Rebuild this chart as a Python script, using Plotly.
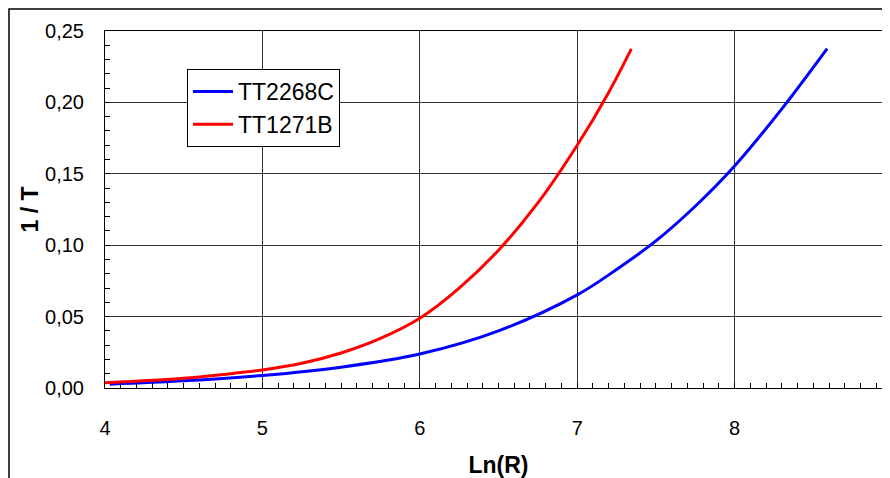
import plotly.graph_objects as go

# TT2268C (blue)
blue_x = [4.03, 4.5, 5.0, 5.5, 6.0, 6.5, 7.0, 7.25, 7.5, 7.75, 8.0, 8.3, 8.588]
blue_y = [0.0027, 0.0050, 0.0088, 0.0146, 0.0238, 0.0400, 0.0652, 0.0830, 0.1030, 0.1273,
          0.1555, 0.1955, 0.2377]

# TT1271B (red)
red_x = [4.0, 4.5, 4.75, 5.0, 5.25, 5.5, 5.75, 6.0, 6.25, 6.5, 6.75, 7.0, 7.2, 7.344]
red_y = [0.0037, 0.0069, 0.0095, 0.0126, 0.0173, 0.0245, 0.0347, 0.0488, 0.0699, 0.0965,
         0.1296, 0.1700, 0.2070, 0.2375]

x_ticks = [4, 5, 6, 7, 8, 9]
y_ticks = [0.00, 0.05, 0.10, 0.15, 0.20, 0.25]

fig = go.Figure()
fig.add_trace(go.Scatter(x=blue_x, y=blue_y, mode="lines", name="TT2268C", legendgroup="a",
                         line=dict(color="#0000FF", width=3, shape="spline", smoothing=1.0)))
fig.add_trace(go.Scatter(x=red_x, y=red_y, mode="lines", name="TT1271B", legendgroup="b",
                         line=dict(color="#FF0000", width=3, shape="spline", smoothing=1.0)))

# page body adds an 8 px offset, so figure coords = screen coords - 8
W, H = 884, 470
ml, mr, mt, mb = 97, 0, 23, 90
pw, ph = W - ml - mr, H - mt - mb

fig.update_layout(
    width=W, height=H,
    margin=dict(l=ml, r=mr, t=mt, b=mb),
    paper_bgcolor="white", plot_bgcolor="white",
    separators=",.",
    font=dict(family="Liberation Sans, Arial, sans-serif", color="black", size=20),
    legend=dict(x=(179 - ml) / pw, y=1 - (61 - mt) / ph, xanchor="left", yanchor="top",
                bordercolor="black", borderwidth=1, bgcolor="white",
                font=dict(size=23), tracegroupgap=0, traceorder="grouped", itemwidth=40),
    xaxis=dict(range=[4, 9], tickvals=x_ticks, showgrid=True, gridcolor="#333", gridwidth=1,
               showline=True, linecolor="black", linewidth=1, mirror=True,
               ticks="inside", ticklen=5, tickcolor="black", ticklabelstandoff=22,
               ticklabeloverflow="allow", automargin=False, zeroline=False,
               minor=dict(dtick=0.1, ticks="inside", ticklen=5, tickcolor="black", showgrid=False),
               title=dict(text="<b>Ln(R)</b>", font=dict(size=23), standoff=19)),
    yaxis=dict(range=[0, 0.25], tickvals=y_ticks, tickformat=".2f", showgrid=True, gridcolor="#333",
               gridwidth=1, showline=True, linecolor="black", linewidth=1, mirror=True,
               ticks="inside", ticklen=5, tickcolor="black", ticklabelstandoff=16,
               automargin=False, zeroline=False,
               minor=dict(dtick=0.01, ticks="inside", ticklen=5, tickcolor="black", showgrid=False),
               title=dict(text="<b>1 / T</b>", font=dict(size=23), standoff=0)),
    shapes=[dict(type="rect", xref="paper", yref="paper",
                 x0=(1 - ml) / pw, x1=1.2, y0=-0.5, y1=1 + (mt - 1) / ph,
                 line=dict(color="black", width=1.5), fillcolor="rgba(0,0,0,0)", layer="below")],
)

fig.write_html("out.html")
